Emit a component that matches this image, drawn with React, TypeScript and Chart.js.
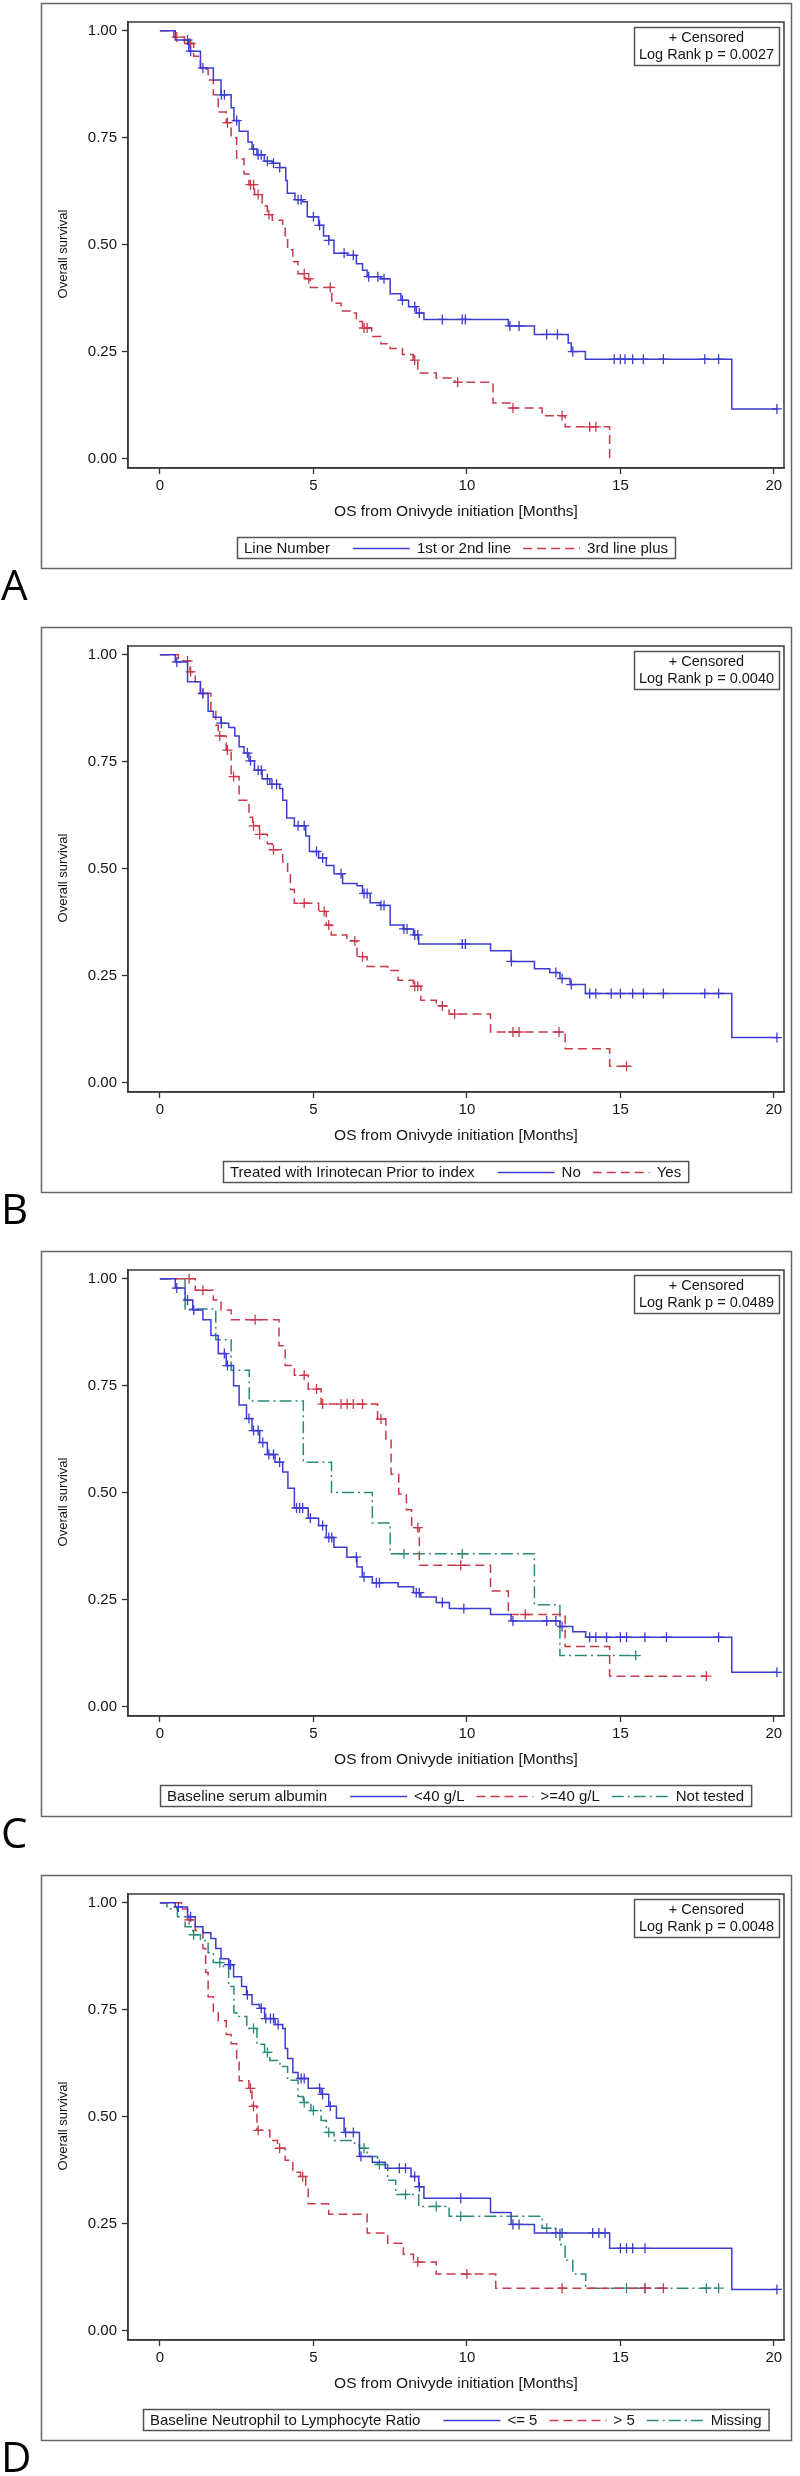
import React, { useEffect, useRef } from 'react';
import { Chart, registerables } from 'chart.js';

Chart.register(...registerables);

const FONT = '"Liberation Sans", Arial, sans-serif';
const BLUE = '#3c3cd0';
const RED = '#c8394a';
const TEAL = '#2a8b7a';
const SOLID: number[] = [];
const DASH = [9, 5];
const DASHDOT = [12, 4, 2, 4];

const X_TICKS = [0, 5, 10, 15, 20];
const Y_TICKS = [0, 0.25, 0.5, 0.75, 1];
const X_TITLE = 'OS from Onivyde initiation [Months]';
const Y_TITLE = 'Overall survival';

// ---------- Panel A: Line Number ----------
const A1_T = [0.5, 0.94, 1.32, 1.74, 1.99, 2.32, 2.41, 2.58, 2.87, 3.0, 3.16, 3.4, 3.66, 3.9, 4.1, 4.15, 4.4, 4.65, 4.8, 5.17, 5.33, 5.5, 5.67, 6.1, 6.4, 6.6, 6.75, 7.2, 7.5, 7.85, 8.1, 8.35, 8.6, 11.35, 12.2, 13.3, 13.4, 13.86, 18.63];
const A1_S = [0.978, 0.952, 0.913, 0.885, 0.85, 0.82, 0.79, 0.765, 0.74, 0.723, 0.71, 0.695, 0.69, 0.68, 0.65, 0.62, 0.605, 0.6, 0.565, 0.545, 0.52, 0.51, 0.48, 0.475, 0.455, 0.44, 0.425, 0.42, 0.385, 0.37, 0.355, 0.34, 0.325, 0.31, 0.29, 0.27, 0.25, 0.232, 0.116];
const A1_CENS = [0.9, 1.0, 1.4, 2.0, 2.1, 2.5, 3.05, 3.2, 3.3, 3.5, 3.7, 3.9, 4.5, 4.6, 5.0, 5.2, 5.5, 6.0, 6.3, 6.8, 7.1, 7.3, 7.9, 8.3, 8.45, 9.2, 9.85, 9.95, 11.4, 11.7, 12.6, 12.95, 13.45, 14.8, 15.0, 15.15, 15.4, 15.75, 16.4, 17.75, 18.2, 20.1];
const A1_END = 20.1;
const A2_T = [0.45, 0.8, 1.1, 1.32, 1.57, 1.74, 1.9, 2.16, 2.32, 2.5, 2.74, 2.9, 3.08, 3.33, 3.5, 3.66, 4.0, 4.08, 4.16, 4.33, 4.5, 4.75, 4.9, 5.6, 5.9, 6.25, 6.4, 6.6, 6.9, 7.2, 7.5, 7.9, 8.25, 8.4, 9.0, 9.6, 10.85, 11.45, 12.45, 13.2, 14.65];
const A2_S = [0.985, 0.97, 0.94, 0.91, 0.885, 0.85, 0.81, 0.785, 0.75, 0.7, 0.665, 0.64, 0.617, 0.59, 0.57, 0.557, 0.543, 0.516, 0.488, 0.46, 0.432, 0.42, 0.4, 0.363, 0.345, 0.34, 0.32, 0.305, 0.285, 0.268, 0.257, 0.243, 0.23, 0.2, 0.188, 0.178, 0.13, 0.118, 0.1, 0.074, 0.0];
const A2_CENS = [0.55, 0.95, 1.0, 2.2, 2.95, 3.05, 3.2, 3.55, 4.7, 4.85, 5.55, 6.65, 6.75, 8.3, 9.7, 11.5, 13.1, 14.0, 14.2];
const A2_END = 14.65;

// ---------- Panel B: Irinotecan prior ----------
const B1_T = [0.5, 0.9, 1.32, 1.57, 1.74, 1.99, 2.24, 2.44, 2.58, 2.74, 2.9, 3.08, 3.33, 3.58, 3.9, 4.0, 4.13, 4.38, 4.75, 4.87, 5.17, 5.42, 5.67, 5.95, 6.42, 6.6, 6.85, 7.17, 7.5, 7.93, 8.26, 8.43, 10.77, 11.44, 12.2, 12.7, 13.03, 13.36, 13.86, 18.63];
const B1_S = [0.983, 0.937, 0.909, 0.868, 0.854, 0.84, 0.83, 0.81, 0.785, 0.77, 0.752, 0.73, 0.71, 0.697, 0.687, 0.66, 0.618, 0.6, 0.576, 0.54, 0.525, 0.507, 0.488, 0.465, 0.46, 0.442, 0.42, 0.414, 0.368, 0.359, 0.345, 0.324, 0.308, 0.283, 0.266, 0.257, 0.243, 0.229, 0.208, 0.105];
const B1_CENS = [0.55, 1.4, 2.0, 2.85, 2.95, 3.2, 3.3, 3.5, 3.65, 3.8, 4.5, 4.7, 5.1, 5.3, 5.9, 6.65, 6.75, 7.2, 7.3, 7.95, 8.05, 8.3, 8.4, 9.85, 9.95, 11.45, 12.9, 13.1, 13.4, 14.0, 14.2, 14.7, 15.0, 15.4, 15.75, 16.4, 17.75, 18.2, 20.1];
const B1_END = 20.1;
const B2_T = [0.6, 0.98, 1.15, 1.32, 1.66, 1.82, 1.9, 2.16, 2.32, 2.58, 2.9, 3.02, 3.24, 3.5, 3.66, 4.0, 4.16, 4.25, 4.38, 5.17, 5.42, 5.58, 6.09, 6.42, 6.75, 7.42, 7.76, 8.26, 8.5, 9.0, 9.42, 10.77, 13.2, 14.65];
const B2_S = [0.985, 0.96, 0.937, 0.91, 0.868, 0.835, 0.81, 0.777, 0.715, 0.66, 0.62, 0.6, 0.58, 0.558, 0.544, 0.516, 0.488, 0.451, 0.419, 0.4, 0.368, 0.345, 0.331, 0.294, 0.271, 0.262, 0.239, 0.225, 0.192, 0.179, 0.16, 0.118, 0.079, 0.038];
const B2_CENS = [0.9, 1.0, 1.4, 1.95, 2.2, 2.4, 3.05, 3.25, 3.7, 4.7, 5.35, 5.5, 6.35, 6.6, 8.3, 8.4, 9.2, 9.6, 11.5, 11.7, 13.0, 15.2];
const B2_END = 15.2;

// ---------- Panel C: Baseline serum albumin ----------
const C1_T = [0.5, 0.82, 1.07, 1.4, 1.66, 1.9, 2.16, 2.4, 2.58, 2.82, 3.0, 3.25, 3.5, 3.75, 4.0, 4.17, 4.38, 4.83, 5.17, 5.42, 5.67, 6.09, 6.42, 6.59, 6.92, 7.76, 8.26, 8.5, 9.0, 9.43, 10.77, 11.44, 13.03, 13.45, 13.87, 18.63];
const C1_S = [0.978, 0.95, 0.927, 0.904, 0.867, 0.825, 0.797, 0.75, 0.705, 0.673, 0.645, 0.617, 0.589, 0.571, 0.548, 0.51, 0.464, 0.44, 0.423, 0.395, 0.372, 0.349, 0.326, 0.303, 0.289, 0.28, 0.266, 0.256, 0.243, 0.229, 0.215, 0.2, 0.187, 0.175, 0.162, 0.08];
const C1_CENS = [0.55, 0.9, 1.1, 2.1, 2.2, 2.9, 3.05, 3.2, 3.35, 3.55, 3.7, 3.9, 4.45, 4.55, 4.65, 4.9, 5.3, 5.5, 5.6, 6.4, 6.65, 7.05, 7.15, 8.35, 8.45, 9.2, 9.9, 11.5, 12.6, 12.9, 13.1, 14.0, 14.2, 14.55, 15.0, 15.2, 15.8, 16.5, 18.2, 20.1];
const C1_END = 20.1;
const C2_T = [1.15, 1.74, 1.99, 2.32, 3.88, 4.08, 4.38, 4.83, 5.25, 7.09, 7.36, 7.53, 7.78, 8.03, 8.2, 8.45, 10.77, 11.35, 13.2, 14.65];
const C2_S = [0.973, 0.95, 0.927, 0.904, 0.843, 0.797, 0.774, 0.742, 0.707, 0.672, 0.626, 0.543, 0.497, 0.46, 0.418, 0.33, 0.27, 0.215, 0.14, 0.071];
const C2_CENS = [0.95, 1.4, 3.1, 4.7, 5.1, 5.3, 5.9, 6.1, 6.3, 6.6, 7.2, 8.4, 9.8, 11.9, 17.8];
const C2_END = 17.8;
const C3_T = [0.82, 1.82, 2.32, 2.91, 4.67, 5.59, 6.92, 7.5, 12.2, 13.03];
const C3_S = [0.929, 0.857, 0.786, 0.714, 0.571, 0.5, 0.429, 0.357, 0.238, 0.119];
const C3_CENS = [7.95, 9.85, 15.5];
const C3_END = 15.5;

// ---------- Panel D: Neutrophil to Lymphocyte Ratio ----------
const D1_T = [0.5, 0.9, 1.15, 1.4, 1.66, 1.82, 1.99, 2.24, 2.4, 2.66, 2.82, 3.0, 3.24, 3.41, 3.75, 4.0, 4.08, 4.16, 4.33, 4.5, 4.83, 5.25, 5.5, 5.75, 6.0, 6.5, 6.92, 7.34, 8.18, 8.43, 8.6, 10.77, 11.44, 12.2, 14.65, 18.63];
const D1_S = [0.99, 0.967, 0.944, 0.93, 0.916, 0.893, 0.869, 0.855, 0.827, 0.804, 0.785, 0.762, 0.753, 0.729, 0.715, 0.706, 0.659, 0.636, 0.603, 0.589, 0.566, 0.552, 0.524, 0.496, 0.463, 0.407, 0.393, 0.379, 0.36, 0.336, 0.309, 0.276, 0.248, 0.228, 0.192, 0.096];
const D1_CENS = [0.6, 1.0, 2.25, 2.3, 2.85, 3.3, 3.45, 3.6, 3.7, 3.85, 4.6, 4.7, 5.2, 5.3, 5.55, 6.05, 6.3, 6.55, 7.8, 8.0, 8.3, 8.45, 9.8, 11.5, 11.7, 12.9, 13.1, 14.1, 14.3, 14.5, 15.0, 15.2, 15.4, 15.8, 20.1];
const D1_END = 20.1;
const D2_T = [0.7, 0.9, 1.15, 1.4, 1.49, 1.57, 1.74, 1.9, 2.16, 2.32, 2.5, 2.58, 2.9, 3.0, 3.16, 3.58, 3.83, 4.08, 4.33, 4.58, 4.75, 4.83, 5.5, 6.75, 7.42, 7.93, 8.26, 9.0, 10.94];
const D2_S = [0.985, 0.96, 0.935, 0.893, 0.837, 0.78, 0.743, 0.724, 0.692, 0.67, 0.63, 0.584, 0.566, 0.524, 0.468, 0.444, 0.426, 0.398, 0.37, 0.36, 0.336, 0.296, 0.272, 0.228, 0.204, 0.178, 0.16, 0.132, 0.099];
const D2_CENS = [0.95, 2.95, 3.05, 3.2, 3.9, 4.65, 8.4, 10.0, 13.1, 15.8, 16.4];
const D2_END = 16.4;
const D3_T = [0.23, 0.57, 0.82, 1.07, 1.32, 1.57, 1.74, 2.07, 2.24, 2.41, 2.5, 2.83, 3.16, 3.41, 3.58, 3.91, 4.16, 4.5, 4.67, 4.92, 5.25, 5.42, 5.67, 6.34, 6.5, 6.75, 7.09, 7.42, 7.68, 8.43, 9.42, 12.45, 13.03, 13.2, 13.45, 13.87];
const D3_S = [0.986, 0.967, 0.944, 0.925, 0.911, 0.883, 0.86, 0.85, 0.804, 0.743, 0.734, 0.706, 0.669, 0.65, 0.631, 0.617, 0.585, 0.547, 0.533, 0.514, 0.491, 0.463, 0.444, 0.435, 0.426, 0.407, 0.388, 0.351, 0.318, 0.29, 0.267, 0.239, 0.201, 0.164, 0.132, 0.099];
const D3_CENS = [1.1, 1.95, 3.05, 3.5, 4.7, 5.0, 5.5, 6.65, 7.15, 8.0, 9.0, 9.8, 12.6, 15.2, 15.8, 17.8, 18.2];
const D3_END = 18.2;

type Group = { label: string; t: number[]; s: number[]; cens: number[]; end: number; color: string; dash: number[] };
type PanelCfg = { letter: string; legendTitle: string; pval: string; groups: Group[] };

const PANELS: PanelCfg[] = [
  {
    letter: 'A', legendTitle: 'Line Number', pval: '0.0027',
    groups: [
      { label: '1st or 2nd line', t: A1_T, s: A1_S, cens: A1_CENS, end: A1_END, color: BLUE, dash: SOLID },
      { label: '3rd line plus', t: A2_T, s: A2_S, cens: A2_CENS, end: A2_END, color: RED, dash: DASH },
    ],
  },
  {
    letter: 'B', legendTitle: 'Treated with Irinotecan Prior to index', pval: '0.0040',
    groups: [
      { label: 'No', t: B1_T, s: B1_S, cens: B1_CENS, end: B1_END, color: BLUE, dash: SOLID },
      { label: 'Yes', t: B2_T, s: B2_S, cens: B2_CENS, end: B2_END, color: RED, dash: DASH },
    ],
  },
  {
    letter: 'C', legendTitle: 'Baseline serum albumin', pval: '0.0489',
    groups: [
      { label: '<40 g/L', t: C1_T, s: C1_S, cens: C1_CENS, end: C1_END, color: BLUE, dash: SOLID },
      { label: '>=40 g/L', t: C2_T, s: C2_S, cens: C2_CENS, end: C2_END, color: RED, dash: DASH },
      { label: 'Not tested', t: C3_T, s: C3_S, cens: C3_CENS, end: C3_END, color: TEAL, dash: DASHDOT },
    ],
  },
  {
    letter: 'D', legendTitle: 'Baseline Neutrophil to Lymphocyte Ratio', pval: '0.0048',
    groups: [
      { label: '<= 5', t: D1_T, s: D1_S, cens: D1_CENS, end: D1_END, color: BLUE, dash: SOLID },
      { label: '> 5', t: D2_T, s: D2_S, cens: D2_CENS, end: D2_END, color: RED, dash: DASH },
      { label: 'Missing', t: D3_T, s: D3_S, cens: D3_CENS, end: D3_END, color: TEAL, dash: DASHDOT },
    ],
  },
];

const PANEL_H = 624;
const CANVAS_W = 800;

function survAt(t: number[], s: number[], c: number) {
  let v = 1;
  for (let i = 0; i < Math.min(t.length, s.length); i++) {
    if (t[i] <= c) v = s[i];
    else break;
  }
  return v;
}

function stepPoints(g: Group) {
  const pts = [{ x: 0, y: 1 }];
  const n = Math.min(g.t.length, g.s.length);
  for (let i = 0; i < n; i++) pts.push({ x: g.t[i], y: g.s[i] });
  const last = pts[pts.length - 1];
  if (g.end > last.x) pts.push({ x: g.end, y: last.y });
  return pts;
}

function makeDecor(cfg: PanelCfg) {
  return {
    id: 'decor' + cfg.letter,
    afterDraw(chart: any) {
      const ctx: CanvasRenderingContext2D = chart.ctx;
      const ca = chart.chartArea;
      ctx.save();
      // outer frame
      ctx.lineWidth = 1.5;
      ctx.strokeStyle = '#666';
      ctx.strokeRect(41.5, 3.5, 750, 565);
      // plot border
      ctx.strokeStyle = '#3a3a3a';
      ctx.strokeRect(ca.left, ca.top, ca.right - ca.left, ca.bottom - ca.top);
      // axis titles
      ctx.fillStyle = '#151515';
      ctx.textAlign = 'center';
      ctx.textBaseline = 'middle';
      ctx.font = `15.5px ${FONT}`;
      ctx.fillText(X_TITLE, (ca.left + ca.right) / 2, 512);
      ctx.save();
      ctx.translate(63, 254);
      ctx.rotate(-Math.PI / 2);
      ctx.font = `13px ${FONT}`;
      ctx.fillText(Y_TITLE, 0, 0);
      ctx.restore();
      // censored / p-value box
      const bw = 145, bh = 38;
      const bx = ca.right - 150, by = ca.top + 5;
      ctx.fillStyle = '#fff';
      ctx.fillRect(bx, by, bw, bh);
      ctx.strokeStyle = '#555';
      ctx.strokeRect(bx + 0.5, by + 0.5, bw, bh);
      ctx.fillStyle = '#151515';
      ctx.font = `14.5px ${FONT}`;
      ctx.fillText('+ Censored', bx + bw / 2, by + 11);
      ctx.fillText('Log Rank p = ' + cfg.pval, bx + bw / 2, by + 28);
      // legend
      ctx.font = `15px ${FONT}`;
      const pad = 7, titleGap = 23, lineLen = 57, lineGap = 7, itemGap = 12;
      const n = cfg.groups.length;
      let w = pad + ctx.measureText(cfg.legendTitle).width + titleGap;
      cfg.groups.forEach((g, i) => {
        w += lineLen + lineGap + ctx.measureText(g.label).width + (i < n - 1 ? itemGap : 0);
      });
      w += pad;
      const lh = 21, ly = 537;
      const lx = Math.round((ca.left + ca.right) / 2 - w / 2);
      ctx.fillStyle = '#fff';
      ctx.fillRect(lx, ly, w, lh);
      ctx.strokeStyle = '#555';
      ctx.lineWidth = 1.5;
      ctx.strokeRect(lx + 0.5, ly + 0.5, w, lh);
      const my = ly + lh / 2 + 1;
      let x = lx + pad;
      ctx.textAlign = 'left';
      ctx.fillStyle = '#151515';
      ctx.fillText(cfg.legendTitle, x, my);
      x += ctx.measureText(cfg.legendTitle).width + titleGap;
      cfg.groups.forEach((g) => {
        ctx.beginPath();
        ctx.setLineDash(g.dash);
        ctx.strokeStyle = g.color;
        ctx.lineWidth = 1.5;
        ctx.moveTo(x, my);
        ctx.lineTo(x + lineLen, my);
        ctx.stroke();
        ctx.setLineDash([]);
        x += lineLen + lineGap;
        ctx.fillStyle = '#151515';
        ctx.fillText(g.label, x, my);
        x += ctx.measureText(g.label).width + itemGap;
      });
      // panel letter
      ctx.font = `42px "Open Sans", ${FONT}`;
      ctx.textAlign = 'left';
      ctx.textBaseline = 'alphabetic';
      ctx.fillStyle = '#000';
      ctx.fillText(cfg.letter, 1, 600);
      ctx.restore();
    },
  };
}

function Panel({ cfg }: { cfg: PanelCfg }) {
  const ref = useRef<HTMLCanvasElement | null>(null);
  useEffect(() => {
    if (!ref.current) return;
    const datasets: any[] = [];
    cfg.groups.forEach((g) => {
      datasets.push({
        label: g.label,
        data: stepPoints(g),
        borderColor: g.color,
        backgroundColor: g.color,
        borderWidth: 1.5,
        borderDash: g.dash,
        stepped: true,
        pointRadius: 0,
        fill: false,
      });
      datasets.push({
        label: g.label + ' (censored)',
        data: g.cens.map((c) => ({ x: c, y: survAt(g.t, g.s, c) })),
        showLine: false,
        pointStyle: 'cross',
        pointRadius: 5,
        pointBorderWidth: 1.3,
        borderColor: g.color,
        pointBorderColor: g.color,
        backgroundColor: g.color,
      });
    });
    const tickFont = { family: FONT, size: 15 };
    const chart = new Chart(ref.current, {
      type: 'line',
      data: { datasets },
      options: {
        animation: false,
        responsive: false,
        maintainAspectRatio: false,
        devicePixelRatio: 1,
        events: [],
        layout: { padding: { top: 22, right: 16, left: 0, bottom: 0 } },
        plugins: { legend: { display: false }, tooltip: { enabled: false }, title: { display: false } },
        scales: {
          x: {
            type: 'linear',
            min: -1.04,
            max: 20.33,
            afterBuildTicks: (s: any) => { s.ticks = X_TICKS.map((v) => ({ value: v })); },
            afterFit: (s: any) => { s.height = PANEL_H - 468; },
            grid: { drawOnChartArea: false, drawTicks: true, tickLength: 6, tickColor: '#333', tickWidth: 1.3 },
            border: { display: true, color: '#3a3a3a', width: 1.5 },
            ticks: { padding: 3, color: '#151515', font: tickFont, maxRotation: 0, callback: (v: any) => String(v) },
          },
          y: {
            type: 'linear',
            min: -0.0222,
            max: 1.0203,
            afterBuildTicks: (s: any) => { s.ticks = Y_TICKS.map((v) => ({ value: v })); },
            afterFit: (s: any) => { s.width = 128; },
            grid: { drawOnChartArea: false, drawTicks: true, tickLength: 6, tickColor: '#333', tickWidth: 1.3 },
            border: { display: true, color: '#3a3a3a', width: 1.5 },
            ticks: { padding: 5, color: '#151515', font: tickFont, callback: (v: any) => Number(v).toFixed(2) },
          },
        },
      } as any,
      plugins: [makeDecor(cfg)],
    });
    return () => chart.destroy();
  }, [cfg]);
  return (
    <canvas
      ref={ref}
      width={CANVAS_W}
      height={PANEL_H}
      style={{ display: 'block', width: CANVAS_W, height: PANEL_H }}
    />
  );
}

export default function App() {
  return (
    <div
      style={{
        position: 'absolute',
        left: 0,
        top: 0,
        width: 800,
        height: 2476,
        overflow: 'hidden',
        background: '#fff',
      }}
    >
      {PANELS.map((p) => (
        <Panel key={p.letter} cfg={p} />
      ))}
    </div>
  );
}
